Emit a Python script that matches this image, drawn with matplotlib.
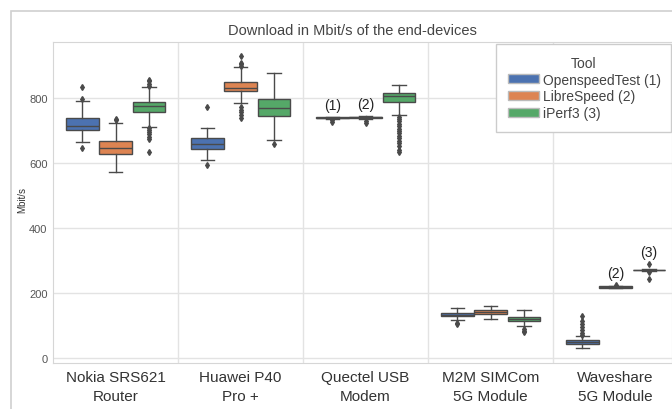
import numpy as np
import matplotlib

matplotlib.use("Agg")
import matplotlib.pyplot as plt
from matplotlib.patches import Patch, Rectangle

plt.rcParams["font.family"] = ["Liberation Sans", "DejaVu Sans"]

devices = ["Nokia SRS621\nRouter", "Huawei P40\nPro +", "Quectel USB\nModem",
           "M2M SIMCom\n5G Module", "Waveshare\n5G Module"]
tools = ["OpenspeedTest (1)", "LibreSpeed (2)", "iPerf3 (3)"]
colors = ["#4c72b0", "#dd8452", "#55a868"]

# box stats per tool, one value per device (Mbit/s)
openspeed_med = [714, 659, 738, 133, 48]
openspeed_q1 = [702, 643, 736, 128, 42]
openspeed_q3 = [738, 675, 740, 137, 54]
openspeed_lo = [663, 609, 733, 116, 31]
openspeed_hi = [789, 708, 742, 154, 66]
openspeed_fliers = [[833, 796, 646], [770, 593], [730, 726], [108, 103],
                    [129, 114, 103, 94, 86, 78, 70]]

libre_med = [644, 829, 740, 141, 218]
libre_q1 = [626, 820, 738, 135, 216]
libre_q3 = [666, 849, 741, 147, 220]
libre_lo = [570, 784, 735, 118, 214]
libre_hi = [723, 893, 744, 159, 222]
libre_fliers = [[734, 731], [927, 907, 902, 897, 771, 763, 755, 746, 738],
                [728, 722], [], [224]]

iperf_med = [773, 767, 804, 119, 270]
iperf_q1 = [755, 743, 787, 112, 269]
iperf_q3 = [788, 796, 815, 126, 271]
iperf_lo = [709, 669, 747, 97, 268]
iperf_hi = [832, 877, 838, 148, 272]
iperf_fliers = [[855, 850, 841, 837, 706, 701, 695, 688, 680, 674, 634], [659],
                [741, 735, 728, 720, 712, 705, 697, 690, 683, 675, 668, 660, 650, 640, 632],
                [88, 84, 80], [290, 263, 244]]

# small labels placed above some nearly flat boxes: (device, tool, text)
notes = [(2, 0, "(1)"), (2, 1, "(2)"), (4, 1, "(2)"), (4, 2, "(3)")]

series = [
    (openspeed_med, openspeed_q1, openspeed_q3, openspeed_lo, openspeed_hi, openspeed_fliers),
    (libre_med, libre_q1, libre_q3, libre_lo, libre_hi, libre_fliers),
    (iperf_med, iperf_q1, iperf_q3, iperf_lo, iperf_hi, iperf_fliers),
]

fig = plt.figure(figsize=(6.72, 4.10), dpi=100)
ax = fig.add_axes([0.079, 0.112, 0.921, 0.783])

width = 0.8 / 3
offsets = [-width, 0, width]
edge = "#4a4a4a"

for t, (med, q1, q3, lo, hi, fl) in enumerate(series):
    stats = []
    for d in range(len(devices)):
        stats.append(dict(med=med[d], q1=q1[d], q3=q3[d], whislo=lo[d],
                          whishi=hi[d], fliers=fl[d]))
    pos = np.arange(len(devices)) + offsets[t]
    ax.bxp(stats, positions=pos, widths=width * 0.98, patch_artist=True,
           manage_ticks=False, capwidths=width * 0.4,
           boxprops=dict(facecolor=colors[t], edgecolor=edge, linewidth=1),
           medianprops=dict(color=edge, linewidth=1),
           whiskerprops=dict(color=edge, linewidth=1),
           capprops=dict(color=edge, linewidth=1),
           flierprops=dict(marker="d", markersize=3, markerfacecolor=edge,
                           markeredgecolor=edge))

for d, t, txt in notes:
    top = max([series[t][4][d]] + series[t][5][d])
    ax.text(d + offsets[t], top + 14, txt, ha="center", va="bottom",
            fontsize=10, color="#222222")

ax.set_xlim(-0.5, 4.452)
ax.set_ylim(-16, 971)
ax.set_xticks(range(len(devices)))
ax.set_xticklabels(devices, fontsize=11, color="#333333", linespacing=1.45)
ax.set_yticks([0, 200, 400, 600, 800])
ax.tick_params(axis="y", labelsize=8, colors="#555555", length=0, pad=4)
ax.tick_params(axis="x", length=0, pad=5)
ax.set_xticks(np.arange(0.5, 4.5, 1), minor=True)
ax.tick_params(axis="x", which="minor", length=0)
ax.grid(axis="y", color="#e3e3e3", linewidth=1)
ax.grid(axis="x", which="minor", color="#e3e3e3", linewidth=1)
ax.set_axisbelow(True)
for s in ax.spines.values():
    s.set_color("#d6d6d6")
ax.set_ylabel("Mbit/s", fontsize=7, color="#333333")
ax.yaxis.set_label_coords(-0.042, 0.51)

handles = [Patch(facecolor=c, edgecolor="#bbbbbb", label=l) for c, l in zip(colors, tools)]
leg = ax.legend(handles=handles, title="Tool", loc="upper left",
                bbox_to_anchor=(0.716, 0.994, 0.282, 0.0), mode="expand",
                fontsize=10, title_fontsize=10, handlelength=2.2, handleheight=0.6,
                labelspacing=0.2, handletextpad=0.35, borderpad=0.85,
                borderaxespad=0, fancybox=False, framealpha=1)
leg.get_frame().set_edgecolor("#cccccc")
leg.get_title().set_color("#444444")
for txt in leg.get_texts():
    txt.set_color("#444444")

fig.text(0.525, 0.924, "Download in Mbit/s of the end-devices", ha="center",
         va="center", fontsize=10.5, color="#444444")
fig.patches.append(Rectangle((0.016, -0.1), 1.1, 1.07, transform=fig.transFigure,
                             fill=False, edgecolor="#d0d0d0", linewidth=1.2))

fig.savefig("out.png", dpi=100)
